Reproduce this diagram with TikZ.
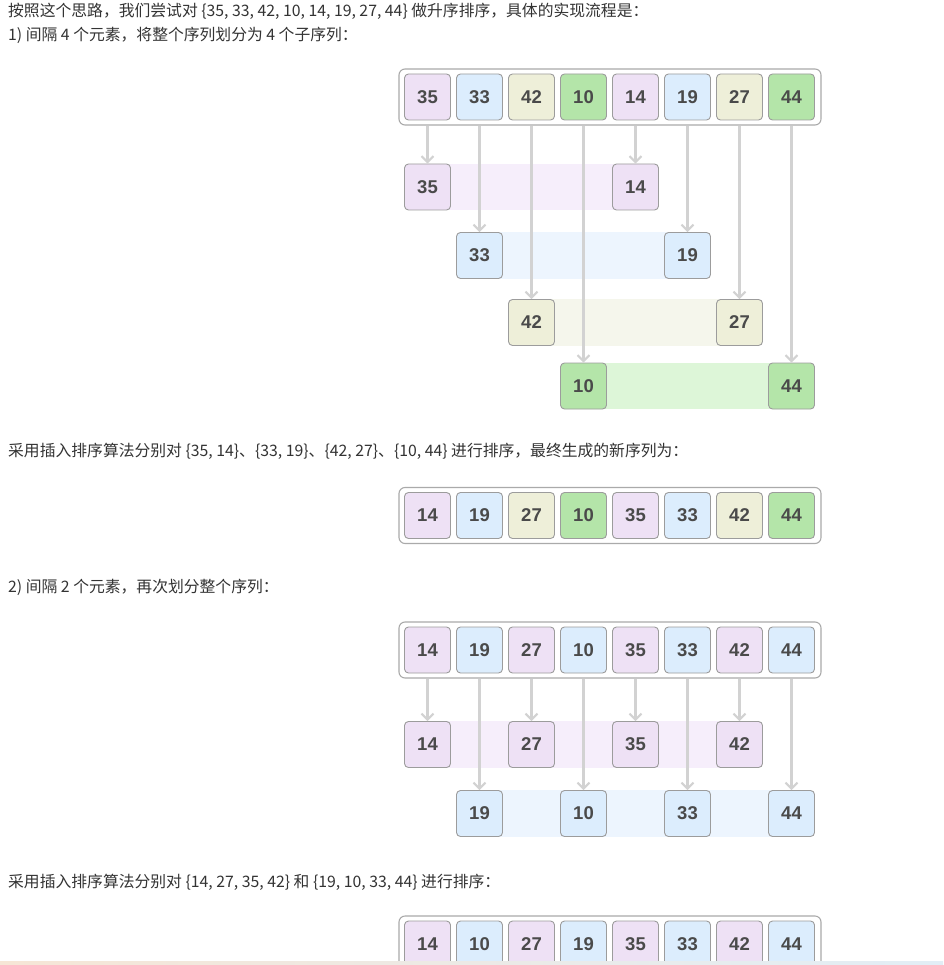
\documentclass[tikz,border=0pt]{standalone}
\usepackage{fontspec}
\setmainfont{Liberation Sans}
\newfontfamily\cjk{Noto Sans CJK SC}
\usetikzlibrary{arrows.meta,backgrounds}
\definecolor{cp}{HTML}{EEE1F5}
\definecolor{cb}{HTML}{DCEDFD}
\definecolor{ct}{HTML}{EEEFD9}
\definecolor{cg}{HTML}{B4E5A9}
\definecolor{bp}{HTML}{F6EEFB}
\definecolor{bb}{HTML}{EDF5FE}
\definecolor{bt}{HTML}{F5F6EC}
\definecolor{bg}{HTML}{DDF6D8}
\definecolor{cellline}{HTML}{9C9C9C}
\definecolor{frameline}{HTML}{AAAAAA}
\definecolor{arrcol}{HTML}{D2D2D2}
\definecolor{numcol}{HTML}{4A4A4A}
\definecolor{txtcol}{HTML}{333333}
\tikzset{
  cell/.style={draw=cellline, line width=0.9pt, rounded corners=4pt, minimum width=46pt, minimum height=46pt, inner sep=0pt, text=numcol, font=\fontsize{18.5}{18.5}\selectfont\bfseries},
  arrframe/.style={draw=frameline, fill=white, line width=1.1pt, rounded corners=6pt, minimum width=422pt, minimum height=56pt, inner sep=0pt},
  arr/.style={draw=arrcol, line width=2.2pt, -{Straight Barb[length=6pt,width=12pt,line width=2pt]}},
  txt/.style={anchor=west, inner sep=0pt, text=txtcol, font=\cjk\fontsize{15.8}{18}\selectfont}
}
\begin{document}
\begin{tikzpicture}[x=1pt,y=-1pt]
\useasboundingbox (0,0) rectangle (943,965);
\clip (0,0) rectangle (943,965);

% texts
\node[txt] (t1) at (8,11) {按照这个思路，我们尝试对 \{35, 33, 42, 10, 14, 19, 27, 44\} 做升序排序，具体的实现流程是：};
\node[txt] (t2) at (8,35) {1) 间隔 4 个元素，将整个序列划分为 4 个子序列：};
\node[txt] (t3) at (8,451) {采用插入排序算法分别对 \{35, 14\}、\{33, 19\}、\{42, 27\}、\{10, 44\} 进行排序，最终生成的新序列为：};
\node[txt] (t4) at (8,587) {2) 间隔 2 个元素，再次划分整个序列：};
\node[txt] (t5) at (8,882) {采用插入排序算法分别对 \{14, 27, 35, 42\} 和 \{19, 10, 33, 44\} 进行排序：};

% array 1
\node[arrframe] (FA) at (610,97) {};
\foreach \v/\c [count=\i] in {35/cp,33/cb,42/ct,10/cg,14/cp,19/cb,27/ct,44/cg}
  \node[cell,fill=\c] (A\i) at ({427.5+52*(\i-1)},97) {\v};

% sub-sequences for gap 4
\node[cell,fill=cp] (P1) at (427.5,187) {35};
\node[cell,fill=cp] (P2) at (635.5,187) {14};
\node[cell,fill=cb] (Q1) at (479.5,255.5) {33};
\node[cell,fill=cb] (Q2) at (687.5,255.5) {19};
\node[cell,fill=ct] (S1) at (531.5,322.5) {42};
\node[cell,fill=ct] (S2) at (739.5,322.5) {27};
\node[cell,fill=cg] (G1) at (583.5,386) {10};
\node[cell,fill=cg] (G2) at (791.5,386) {44};

% array 2
\node[arrframe] (FB) at (610,515.5) {};
\foreach \v/\c [count=\i] in {14/cp,19/cb,27/ct,10/cg,35/cp,33/cb,42/ct,44/cg}
  \node[cell,fill=\c] (B\i) at ({427.5+52*(\i-1)},515.5) {\v};

% array 3
\node[arrframe] (FC) at (610,650) {};
\foreach \v/\c [count=\i] in {14/cp,19/cb,27/cp,10/cb,35/cp,33/cb,42/cp,44/cb}
  \node[cell,fill=\c] (C\i) at ({427.5+52*(\i-1)},650) {\v};

% sub-sequences for gap 2
\node[cell,fill=cp] (U1) at (427.5,744.5) {14};
\node[cell,fill=cp] (U2) at (531.5,744.5) {27};
\node[cell,fill=cp] (U3) at (635.5,744.5) {35};
\node[cell,fill=cp] (U4) at (739.5,744.5) {42};
\node[cell,fill=cb] (V1) at (479.5,813.5) {19};
\node[cell,fill=cb] (V2) at (583.5,813.5) {10};
\node[cell,fill=cb] (V3) at (687.5,813.5) {33};
\node[cell,fill=cb] (V4) at (791.5,813.5) {44};

% array 4
\node[arrframe] (FD) at (610,944) {};
\foreach \v/\c [count=\i] in {14/cp,10/cb,27/cp,19/cb,35/cp,33/cb,42/cp,44/cb}
  \node[cell,fill=\c] (D\i) at ({427.5+52*(\i-1)},944) {\v};

% bands
\begin{scope}[on background layer]
  \fill[white] (0,0) rectangle (943,965);
  \fill[bp] (P1.north) rectangle (P2.south);
  \fill[bb] (Q1.north) rectangle (Q2.south);
  \fill[bt] (S1.north) rectangle (S2.south);
  \fill[bg] (G1.north) rectangle (G2.south);
  \fill[bp] (U1.north) rectangle (U4.south);
  \fill[bb] (V1.north) rectangle (V4.south);
\end{scope}

% arrows gap 4
\draw[arr] (FA.south -| A1) -- (P1.north);
\draw[arr] (FA.south -| A2) -- (Q1.north);
\draw[arr] (FA.south -| A3) -- (S1.north);
\draw[arr] (FA.south -| A4) -- (G1.north);
\draw[arr] (FA.south -| A5) -- (P2.north);
\draw[arr] (FA.south -| A6) -- (Q2.north);
\draw[arr] (FA.south -| A7) -- (S2.north);
\draw[arr] (FA.south -| A8) -- (G2.north);

% arrows gap 2
\draw[arr] (FC.south -| C1) -- (U1.north);
\draw[arr] (FC.south -| C2) -- (V1.north);
\draw[arr] (FC.south -| C3) -- (U2.north);
\draw[arr] (FC.south -| C4) -- (V2.north);
\draw[arr] (FC.south -| C5) -- (U3.north);
\draw[arr] (FC.south -| C6) -- (V3.north);
\draw[arr] (FC.south -| C7) -- (U4.north);
\draw[arr] (FC.south -| C8) -- (V4.north);

% bottom bar
\shade[left color={rgb,255:red,246;green,230;blue,214}, right color={rgb,255:red,226;green,238;blue,246}] (0,961) rectangle (943,965);
\end{tikzpicture}
\end{document}
